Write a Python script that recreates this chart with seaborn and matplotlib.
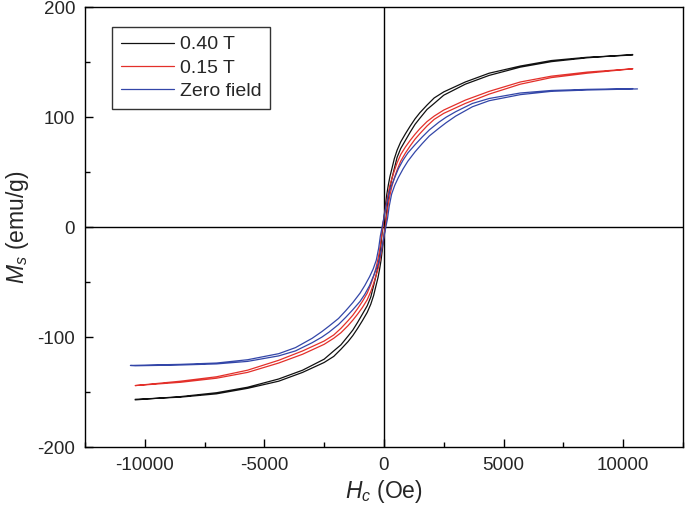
import matplotlib
matplotlib.use('Agg')
import matplotlib.pyplot as plt
import seaborn as sns
import numpy as np
import pandas as pd
from matplotlib.ticker import MultipleLocator

# descending branch of each loop (field from +max to -max); the ascending
# branch is the mirror image (-H, -M)
h_040 = [10400, 8500, 7000, 5700, 4400, 3400, 2500, 2100, 1800, 1500, 1300, 1100, 900, 700,
         550, 430, 330, 250, 180, 120, 60, 0,
         -60, -120, -180, -250, -330, -430, -550, -700, -900, -1100, -1300, -1500, -1800,
         -2100, -2500, -3400, -4400, -5700, -7000, -8500, -10400]
m_040 = [156.5, 154.5, 151.5, 146.5, 140, 132, 123, 117.5, 111, 104, 98.5, 92, 85, 77.5,
         70, 62, 53, 46, 38, 30, 19, 9,
         -2, -15, -26, -35.5, -44, -53, -63.5, -71.5, -79, -86.5, -93.5, -99, -107,
         -112.5, -120, -130, -138, -145.5, -150.5, -154, -157]

h_015 = [10400, 8500, 7000, 5700, 4400, 3400, 2500, 2100, 1800, 1500, 1300, 1100, 900, 700,
         550, 430, 330, 250, 180, 120, 60, 0,
         -60, -120, -180, -250, -330, -430, -550, -700, -900, -1100, -1300, -1500, -1800,
         -2100, -2500, -3400, -4400, -5700, -7000, -8500, -10400]
m_015 = [144, 141, 137.3, 132, 123.5, 115.5, 106.5, 101, 96, 89.5, 84.5, 79, 73, 66,
         58.5, 51, 44, 38, 31, 24, 16, 8,
         -1, -11, -21, -29, -37, -44.5, -52, -60, -67.5, -74, -80, -85, -92,
         -98, -103.5, -112.5, -121, -130, -136, -140, -144]

h_zero = [10400, 8500, 7000, 5700, 4400, 3700, 3000, 2600, 2300, 1900, 1600, 1300, 1000, 800,
          600, 450, 320, 220, 150, 70, 0,
          -70, -150, -220, -320, -450, -600, -800, -1000, -1300, -1600, -1900, -2300, -2600,
          -3000, -3700, -4400, -5700, -7000, -8500, -10600]
m_zero = [126, 125.3, 124.3, 122, 117, 112.5, 105, 100, 95.5, 88.5, 82, 75, 67.5, 61,
          53, 45, 38, 32, 25, 17, 9,
          1, -8, -19, -30, -38, -45, -53, -60, -68.5, -76, -83, -90, -95,
          -101, -109.5, -115, -120.5, -123.5, -124.7, -125.7]

labels = ['0.40 T', '0.15 T', 'Zero field']
colors = ['#111111', '#e3302a', '#3346a8']

frames = []
for lab, h, m in zip(labels, [h_040, h_015, h_zero], [m_040, m_015, m_zero]):
    h = np.array(h, dtype=float)
    m = np.array(m, dtype=float)
    frames.append(pd.DataFrame({'H': np.concatenate([h, -h]),
                                'M': np.concatenate([m, -m]),
                                'field': lab}))
df = pd.concat(frames, ignore_index=True)

sns.set_style('ticks')
plt.rcParams['font.family'] = ['Liberation Sans', 'DejaVu Sans']
plt.rcParams['mathtext.fontset'] = 'custom'
plt.rcParams['mathtext.rm'] = 'Liberation Sans'
plt.rcParams['mathtext.it'] = 'Liberation Sans:italic'
plt.rcParams['axes.unicode_minus'] = False

fig, ax = plt.subplots(figsize=(6.85, 5.14), dpi=100)
fig.subplots_adjust(left=0.124, right=0.997, top=0.986, bottom=0.130)

ax.axhline(0, color='black', lw=1.0, zorder=1)
ax.axvline(0, color='black', lw=1.0, zorder=1)

sns.lineplot(data=df, x='H', y='M', hue='field', hue_order=labels,
             palette=colors, sort=False, estimator=None, lw=0.9, ax=ax)

ax.set_xlim(-12500, 12500)
ax.set_ylim(-200, 200)
ax.xaxis.set_major_locator(MultipleLocator(5000))
ax.xaxis.set_minor_locator(MultipleLocator(2500))
ax.yaxis.set_major_locator(MultipleLocator(100))
ax.yaxis.set_minor_locator(MultipleLocator(50))
ax.tick_params(which='both', direction='in', top=False, right=False,
               labelsize=13.5, width=1.0, color='black')
ax.tick_params(which='major', length=6, pad=7)
ax.tick_params(which='minor', length=3.5)
for s in ax.spines.values():
    s.set_linewidth(1.0)
    s.set_color('black')

ax.set_xlabel('$H_c$ (Oe)', fontsize=16.5, labelpad=3)
ax.set_ylabel('$M_s$ (emu/g)', fontsize=16.5)
ax.yaxis.set_label_coords(-0.09, 0.5)

leg = ax.legend(loc='upper left', bbox_to_anchor=(0.046, 0.955), borderaxespad=0,
                fontsize=14, frameon=True, fancybox=False, edgecolor='black',
                handlelength=2.7, borderpad=0.45, labelspacing=0.3, handletextpad=0.3)
leg.get_frame().set_linewidth(1.0)
for line in leg.get_lines():
    line.set_linewidth(0.9)

plt.savefig('out.png', dpi=100)
